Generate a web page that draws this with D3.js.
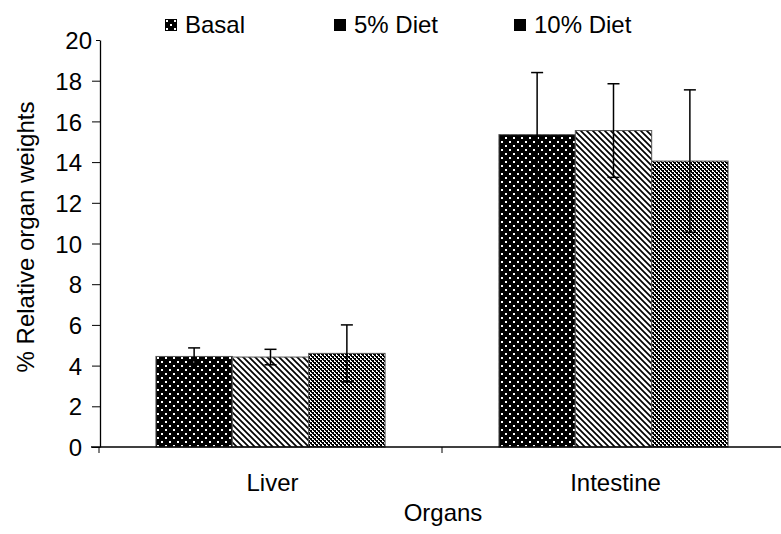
<!DOCTYPE html>
<html>
<head>
<meta charset="utf-8">
<script src="https://cdn.jsdelivr.net/npm/d3@7"></script>
<style>
  body { margin: 0; background: #fff; }
  text { font-family: "Liberation Sans", Arial, sans-serif; fill: #000; }
</style>
</head>
<body>
<svg width="781" height="534"></svg>
<script>
const organs = ["Liver", "Intestine"];
const groups = ["Basal", "5% Diet", "10% Diet"];
const basal = [4.45, 15.35];
const diet5 = [4.42, 15.55];
const diet10 = [4.6, 14.05];
const basalErr = [0.42, 3.05];
const diet5Err = [0.38, 2.3];
const diet10Err = [1.4, 3.5];
const yTicks = [0, 2, 4, 6, 8, 10, 12, 14, 16, 18, 20];

const seriesVals = [basal, diet5, diet10];
const seriesErr = [basalErr, diet5Err, diet10Err];
const data = [];
organs.forEach((o, i) => {
  groups.forEach((g, j) => {
    data.push({organ: o, group: g, value: seriesVals[j][i], err: seriesErr[j][i]});
  });
});

const plotLeft = 100, plotTop = 40, plotBottom = 447, plotRight = 785;
const fontSize = 24;

const svg = d3.select("svg");
const defs = svg.append("defs");

// patterns, rough imitation of the excel fills
const pBasal = defs.append("pattern").attr("id", "basal")
  .attr("patternUnits", "userSpaceOnUse").attr("width", 8).attr("height", 8);
pBasal.append("rect").attr("width", 8).attr("height", 8).attr("fill", "#000");
pBasal.append("rect").attr("x", 1).attr("y", 1).attr("width", 2).attr("height", 2).attr("fill", "#fff");
pBasal.append("rect").attr("x", 5).attr("y", 5).attr("width", 2).attr("height", 2).attr("fill", "#fff");

const pDiet5 = defs.append("pattern").attr("id", "diet5")
  .attr("patternUnits", "userSpaceOnUse").attr("width", 6).attr("height", 6);
pDiet5.append("rect").attr("width", 6).attr("height", 6).attr("fill", "#fff");
pDiet5.append("path").attr("d", "M0,0L6,6M-1,5L1,7M5,-1L7,1")
  .attr("stroke", "#000").attr("stroke-width", 1.7);

const pDiet10 = defs.append("pattern").attr("id", "diet10")
  .attr("patternUnits", "userSpaceOnUse").attr("width", 4).attr("height", 4);
pDiet10.append("rect").attr("width", 4).attr("height", 4).attr("fill", "#fff");
[[0, 0, 2, 2], [2, 2, 2, 2], [3, 0, 1, 1], [1, 2, 1, 1]].forEach(([px, py, w, h]) => {
  pDiet10.append("rect").attr("x", px).attr("y", py).attr("width", w).attr("height", h).attr("fill", "#000");
});

const fills = {"Basal": "url(#basal)", "5% Diet": "url(#diet5)", "10% Diet": "url(#diet10)"};
const legendFills = {"Basal": "url(#basal)", "5% Diet": "#000", "10% Diet": "#000"};

const x0 = d3.scaleBand().domain(organs).range([99, plotRight]);
const x1 = d3.scaleBand().domain(groups)
  .range([x0.bandwidth() * 0.166, x0.bandwidth() * 0.834]);
const y = d3.scaleLinear().domain([0, 20]).range([plotBottom, plotTop]);

// bars
svg.append("g").selectAll("rect")
  .data(data)
  .join("rect")
  .attr("x", d => x0(d.organ) + x1(d.group))
  .attr("y", d => y(d.value))
  .attr("width", x1.bandwidth())
  .attr("height", d => y(0) - y(d.value))
  .attr("fill", d => fills[d.group])
  .attr("stroke", "#555")
  .attr("stroke-width", 1);

// error bars
const eb = svg.append("g").attr("stroke", "#000").attr("stroke-width", 1.5);
const cx = d => x0(d.organ) + x1(d.group) + x1.bandwidth() / 2;
eb.selectAll("line.v").data(data).join("line").attr("class", "v")
  .attr("x1", cx).attr("x2", cx)
  .attr("y1", d => y(d.value + d.err)).attr("y2", d => y(d.value - d.err));
eb.selectAll("line.t").data(data).join("line").attr("class", "t")
  .attr("x1", d => cx(d) - 6).attr("x2", d => cx(d) + 6)
  .attr("y1", d => y(d.value + d.err)).attr("y2", d => y(d.value + d.err));
eb.selectAll("line.b").data(data).join("line").attr("class", "b")
  .attr("x1", d => cx(d) - 6).attr("x2", d => cx(d) + 6)
  .attr("y1", d => y(d.value - d.err)).attr("y2", d => y(d.value - d.err));

// y axis
const yAxis = svg.append("g")
  .attr("transform", `translate(${plotLeft},0)`)
  .call(d3.axisLeft(y).tickValues(yTicks).tickSize(8).tickSizeOuter(0).tickPadding(10));
yAxis.select(".domain").attr("stroke", "#000").attr("stroke-width", 1.3);
yAxis.selectAll(".tick line").attr("stroke", "#000");
yAxis.selectAll(".tick text")
  .style("font-size", fontSize + "px")
  .attr("dy", "0.36em");
// the top label sits closer to the axis in the original
yAxis.selectAll(".tick").filter(d => d === 20).select("text").attr("dx", 10);
yAxis.selectAll(".tick").filter(d => d === 20).select("line").attr("x2", -4);

// x axis
const xAxis = svg.append("g").attr("transform", `translate(0,${plotBottom})`);
xAxis.append("line").attr("x1", 91).attr("x2", plotRight)
  .attr("stroke", "#000").attr("stroke-width", 1.3);
const bounds = [x0.range()[0], x0(organs[1])];
xAxis.selectAll("line.tk").data(bounds).join("line").attr("class", "tk")
  .attr("x1", d => d).attr("x2", d => d).attr("y1", 0).attr("y2", 6)
  .attr("stroke", "#000");
xAxis.selectAll("text").data(organs).join("text")
  .attr("x", d => x0(d) + x0.bandwidth() / 2 + 2)
  .attr("y", 44)
  .attr("text-anchor", "middle")
  .style("font-size", fontSize + "px")
  .text(d => d);

// axis titles
svg.append("text")
  .attr("x", 443).attr("y", 521)
  .attr("text-anchor", "middle")
  .style("font-size", fontSize + "px")
  .text("Organs");
svg.append("text")
  .attr("transform", "translate(34,237) rotate(-90)")
  .attr("text-anchor", "middle")
  .style("font-size", fontSize + "px")
  .text("% Relative organ weights");

// legend
const legendX = [165, 334, 514];
const lg = svg.append("g").selectAll("g")
  .data(groups)
  .join("g")
  .attr("transform", (d, i) => `translate(${legendX[i]},19)`);
lg.append("rect").attr("width", 12).attr("height", 12)
  .attr("fill", d => legendFills[d]);
lg.append("text").attr("x", 20).attr("y", 14)
  .style("font-size", fontSize + "px")
  .text(d => d);
</script>
</body>
</html>
